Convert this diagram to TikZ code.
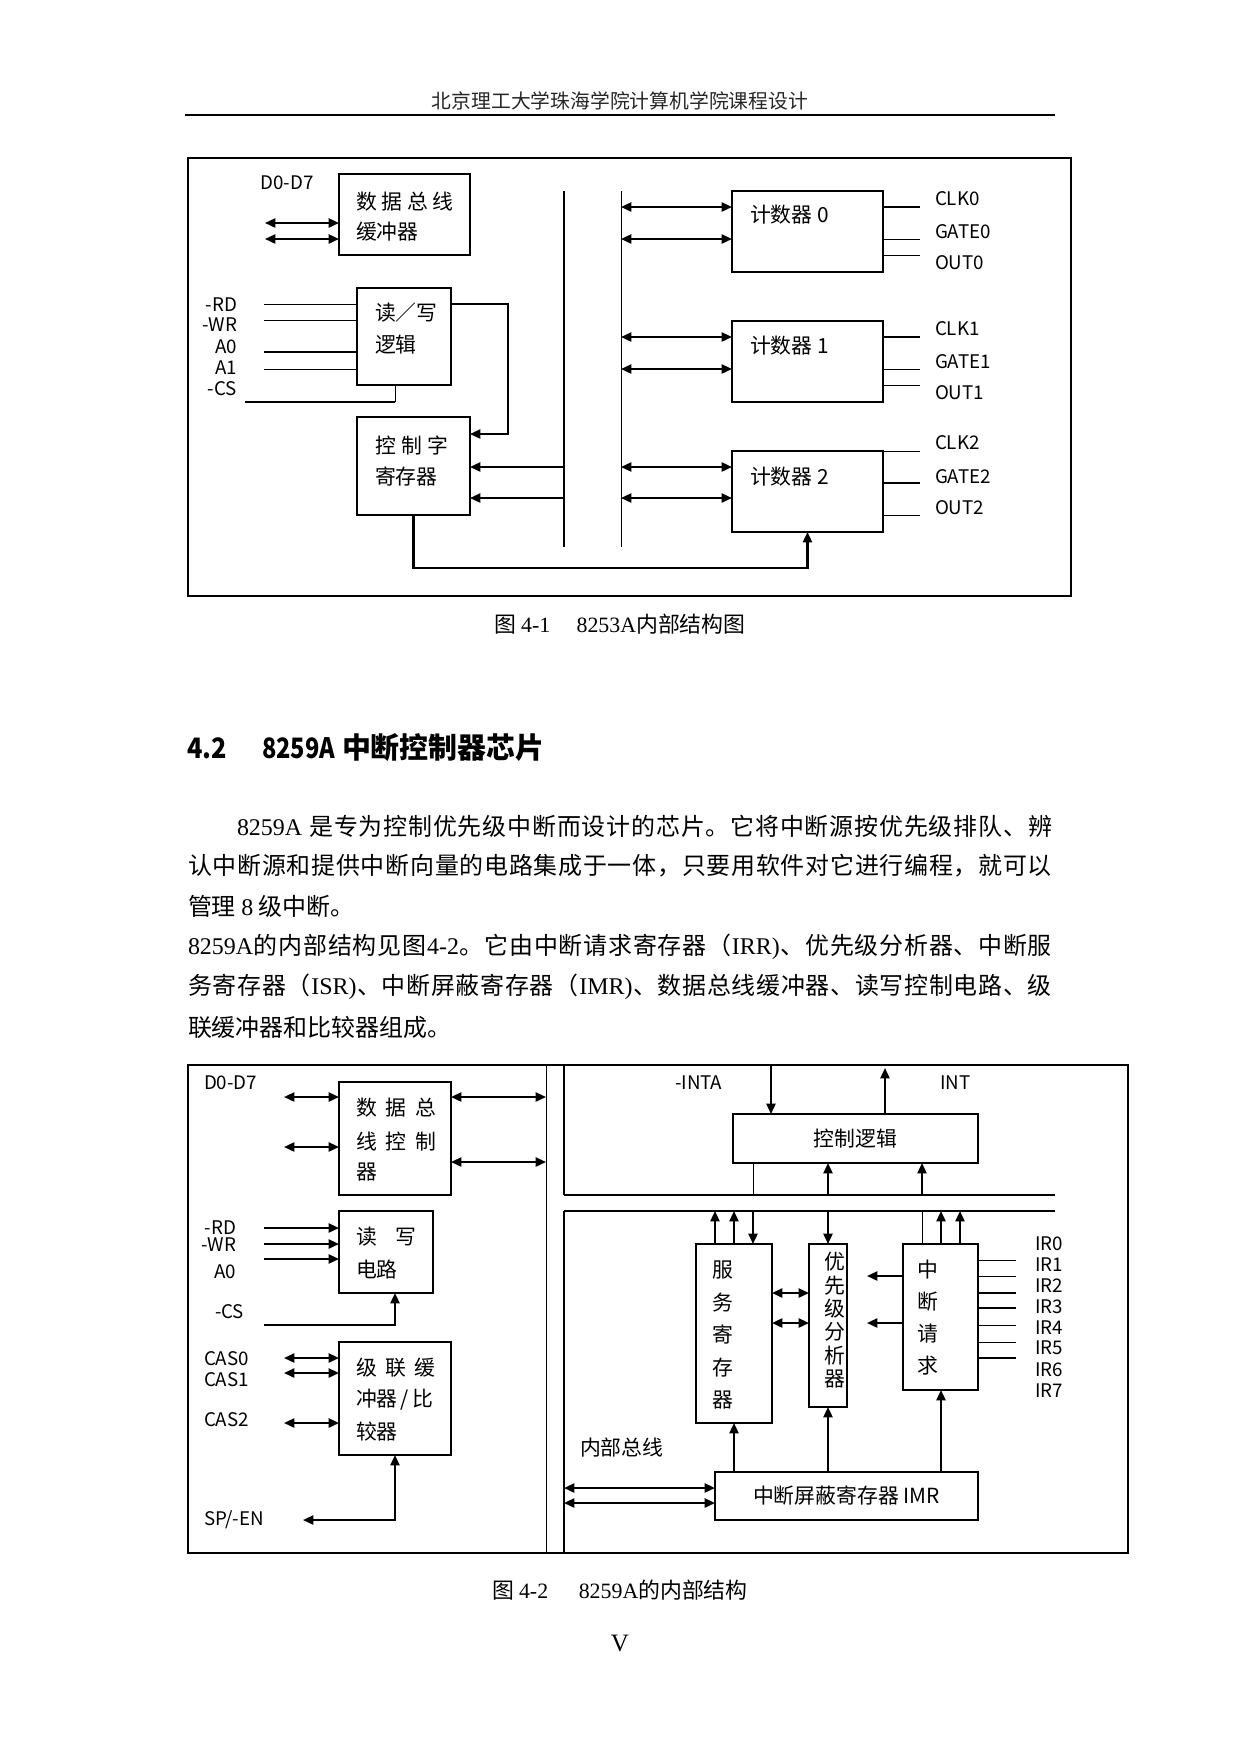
\documentclass[tikz,border=0pt]{standalone}
\usepackage{fontspec}
\setmainfont{Noto Sans CJK SC}
\newfontfamily\tnr{Liberation Serif}
\usetikzlibrary{arrows.meta,fit,calc}
\newcommand\fl{\fontsize{9}{10}\selectfont}
\newcommand\fc{\fontsize{10}{11}\selectfont}
\newcommand\fb{\fontsize{11.5}{12}\selectfont}
\newcommand\gp[1]{\hspace{#1pt}}
% spread the characters of a line evenly over a box of given width
\def\sprend{\sprend}
\def\spr#1#2\relax{{#1}\sprx#2\sprend}
\def\sprx#1{\ifx\sprend#1\else\hskip 0pt plus 1fil{#1}\expandafter\sprx\fi}
\begin{document}
\begin{tikzpicture}[x=0.48pt,y=-0.48pt,
  every node/.style={inner sep=0pt, outer sep=0pt},
  box/.style={draw, line width=0.65pt, fit={#1}},
  frm/.style={draw, line width=0.7pt},
  thk/.style={line width=1pt},
  thn/.style={line width=0.45pt},
  arr/.style={-{Triangle[length=5pt,width=4.4pt]}},
  darr/.style={{Triangle[length=5pt,width=4.4pt]}-{Triangle[length=5pt,width=4.4pt]}},
  lab/.style={font=\fl},
  labw/.style={font=\fl, anchor=west},
  labe/.style={font=\fl, anchor=east},
  ct/.style={font=\fc, anchor=west},
  body/.style={font=\fb, anchor=west},
]
\fill[white] (0,0) rectangle (1241,1754);
\useasboundingbox (0,0) rectangle (1241,1754);

% ---------- header ----------
\coordinate (hl) at (185,115); \coordinate (hr) at (1055,115);
\node[font=\fontsize{9.5}{10}\selectfont, text=black!85] (hdr) at (620,101) {北京理工大学珠海学院计算机学院课程设计};
\draw[line width=1.3pt] (hl) -- (hr);

% ---------- figure 4-1 ----------
\node[frm, fit={(188,158)(1071,596)}] (f1) {};
\node[box={(339,174)(470,255)}] (dbb) {};
\node[box={(357,288)(451,385)}] (rwl) {};
\node[box={(357,417)(470,515)}] (cwr) {};
\node[box={(732,191)(883,272)}] (c0) {};
\node[box={(732,321)(883,402)}] (c1) {};
\node[box={(732,451)(883,532)}] (c2) {};

\node[lab] (d07a) at (287,183) {D0-D7};
\node[ct] (t1a) at (356,202) {数\gp{2.3}据\gp{2.3}总\gp{2.3}线};
\node[ct] (t1b) at (356,232) {缓冲器};
\node[ct] (t2a) at (375,313) {读／写};
\node[ct] (t2b) at (375,345) {逻辑};
\node[ct] (t3a) at (375,445) {控\gp{2.5}制\gp{2.5}字};
\node[ct] (t3b) at (375,477) {寄存器};
\node[ct] (t4) at (750,215) {计数器 0};
\node[ct] (t5) at (750,346) {计数器 1};
\node[ct] (t6) at (750,477) {计数器 2};

\node[labe] (lrd) at (237,305) {-RD};
\node[labe] (lwr) at (237,325) {-WR};
\node[labe] (la0) at (237,347) {A0};
\node[labe] (la1) at (237,368) {A1};
\node[labe] (lcs) at (237,389) {-CS};

\foreach \n/\y/\t in {k0/199/CLK0, g0/232/GATE0, o0/263/OUT0, k1/329/CLK1, g1/362/GATE1, o1/393/OUT1, k2/443/CLK2, g2/477/GATE2, o2/508/OUT2}
  \node[labw] (\n) at (935,\y) {\t};

% buses
\coordinate (b1t) at (564,191); \coordinate (b1b) at (564,547);
\coordinate (b2t) at (621,191); \coordinate (b2b) at (621,547);
\draw[line width=1.1pt] (b1t) -- (b1b);
\draw[thn] (b2t) -- (b2b);

% data bus buffer arrows
\coordinate (da1) at (265,223); \coordinate (da2) at (265,239);
\draw[thk,darr] (da1) -- (da1 -| dbb.west);
\draw[thk,darr] (da2) -- (da2 -| dbb.west);

% read/write inputs
\foreach \y/\w in {304/thn,320/thn,352/thk,369/thn}
  \draw[\w] (264,\y) -- (rwl.west |- 0,\y);
\coordinate (cs0) at (245,402); \coordinate (cs1) at (395,402);
\draw[thk] (cs0) -- (cs1);
\draw[thn] (cs1) -- (cs1 |- rwl.south);

% rw -> control word
\draw[thk,arr] (rwl.east |- 0,304) -- (508,304) -- (508,434) -- (cwr.east |- 0,434);
% bus -> control word
\draw[thk,arr] (564,467) -- (cwr.east |- 0,467);
\draw[thk,arr] (564,498) -- (cwr.east |- 0,498);

% counters
\foreach \c/\ya/\yb in {c0/207/239, c1/337/369, c2/467/498} {
  \draw[thk,darr] (621,\ya) -- (\c.west |- 0,\ya);
  \draw[thk,darr] (621,\yb) -- (\c.west |- 0,\yb);
}
\foreach \c/\y/\w in {c0/207/thk, c0/239/thn, c0/255/thn, c1/337/thk, c1/369/thn, c1/385/thn, c2/451/thn, c2/483/thk, c2/515/thn}
  \draw[\w] (\c.east |- 0,\y) -- (920,\y);

% feedback
\draw[thk,arr] (cwr.south) -- (cwr.south |- 0,568) -- (c2.south |- 0,568) -- (c2.south);

\node[font=\fontsize{10.5}{11}\selectfont] (cap1) at (620,624) {图 {\tnr 4-1}\hspace{1.2em}{\tnr 8253A}内部结构图};

% ---------- section heading and text ----------
\node[anchor=west, font=\fontsize{13.5}{14}\selectfont\bfseries] (h42) at (187,748) {\scalebox{0.9}[1]{4.2}};
\node[anchor=west, font=\fontsize{13.5}{14}\selectfont\bfseries] (h8259) at (262,748) {\scalebox{0.84}[1]{8259A}};
\node[anchor=west, font=\fontsize{13.9}{14}\selectfont\bfseries] (hcn) at (342,748) {中断控制器芯片};

\node[body] (p1) at (237,826) {\hbox to 391.2pt{\spr {\tnr 8259A\hspace{3pt}}是专为控制优先级中断而设计的芯片。它将中断源按优先级排队、辨\relax}};
\node[body] (p2) at (188,866) {\hbox to 414.7pt{\spr 认中断源和提供中断向量的电路集成于一体，只要用软件对它进行编程，就可以\relax}};
\node[body] (p3) at (188,906) {管理 {\tnr 8} 级中断。};
\node[body] (p4) at (188,947) {\hbox to 414.7pt{\spr {\tnr 8259A}的内部结构见图{\tnr 4-2}。它由中断请求寄存器（{\tnr IRR)}、优先级分析器、中断服\relax}};
\node[body] (p5) at (188,987) {\hbox to 414.7pt{\spr 务寄存器（{\tnr ISR)}、中断屏蔽寄存器（{\tnr IMR)}、数据总线缓冲器、读写控制电路、级\relax}};
\node[body] (p6) at (188,1027) {联缓冲器和比较器组成。};

% ---------- figure 4-2 ----------
\node[frm, fit={(188,1065)(1128,1553)}] (f2) {};
\draw[thn] (f2.north -| 546,0) -- (f2.south -| 546,0);
\coordinate (u1) at (564,1065); \coordinate (u2) at (564,1195); \coordinate (u3) at (1055,1195);
\coordinate (l1) at (1055,1211); \coordinate (l2) at (564,1211); \coordinate (l3) at (564,1553);
\draw[line width=1pt] (u1) -- (u2);
\draw[line width=0.7pt] (u2) -- (u3);
\draw[line width=0.7pt] (l1) -- (l2);
\draw[line width=1pt] (l2) -- (l3);

\node[box={(339,1082)(451,1195)}] (dbc) {};
\node[box={(339,1211)(433,1293)}] (rwc) {};
\node[box={(339,1342)(451,1455)}] (cas) {};
\node[box={(733,1114)(978,1163)}] (ctl) {};
\node[box={(696,1244)(772,1423)}] (isr) {};
\node[box={(809,1244)(847,1407)}] (pa) {};
\node[box={(903,1244)(978,1390)}] (irr) {};
\node[box={(715,1472)(978,1520)}] (imr) {};

\node[font=\fc] (ctlt) at (ctl.center) {控制逻辑};
\node[font=\fc] (imrt) at (imr.center) {中断屏蔽寄存器 IMR};

\node[labw] (d07b) at (204,1083) {D0-D7};
\node[ct] (s1a) at (356,1108) {数\gp{4.4}据\gp{4.4}总};
\node[ct] (s1b) at (356,1142) {线\gp{4.4}控\gp{4.4}制};
\node[ct] (s1c) at (356,1172) {器};
\node[ct] (s2a) at (356,1237) {读\gp{9.2}写};
\node[ct] (s2b) at (356,1270) {电路};
\node[ct] (s3a) at (356,1368) {级\gp{4}联\gp{4}缓};
\node[ct] (s3b) at (356,1400) {冲器\gp{1.5}/\gp{1.5}比};
\node[ct] (s3c) at (356,1432) {较器};

\node[labe] (mrd) at (236,1228) {-RD};
\node[labe] (mwr) at (236,1245) {-WR};
\node[labe] (ma0) at (236,1272) {A0};
\node[labw] (mcs) at (215,1312) {-CS};
\node[labw] (cs0l) at (204,1359) {CAS0};
\node[labw] (cs1l) at (204,1380) {CAS1};
\node[labw] (cs2l) at (204,1420) {CAS2};
\node[labw] (spen) at (204,1520) {SP/-EN};
\node[labw] (inta) at (675,1083) {-INTA};
\node[labw] (intl) at (940,1083) {INT};
\node[ct] (nbus) at (580,1448) {内部总线};

\foreach \i/\y in {0/1244,1/1265,2/1286,3/1307,4/1328,5/1348,6/1370,7/1391}
  \node[labw] (ir\i) at (1035,\y) {IR\i};

\foreach \t [count=\k from 0] in {服,务,寄,存,器}
  \node[font=\fc] (isrt\k) at (723,1270+32.5*\k) {\t};
\foreach \t [count=\k from 0] in {优,先,级,分,析,器}
  \node[font=\fc] (pat\k) at (835,1262+23.4*\k) {\t};
\foreach \t [count=\k from 0] in {中,断,请,求}
  \node[font=\fc] (irrt\k) at (928,1270+32*\k) {\t};

% left side arrows
\draw[thk,darr] (284,1097) -- (dbc.west |- 0,1097);
\draw[thk,darr] (284,1147) -- (dbc.west |- 0,1147);
\draw[thk,darr] (dbc.east |- 0,1097) -- (546,1097);
\draw[thk,darr] (dbc.east |- 0,1162) -- (546,1162);
\foreach \y in {1228,1244,1259}
  \draw[thk,arr] (264,\y) -- (rwc.west |- 0,\y);
\coordinate (ca0) at (264,1325); \coordinate (ca1) at (395,1325);
\draw[thk,arr] (ca0) -- (ca1) -- (ca1 |- rwc.south);
\foreach \y in {1358,1373,1423}
  \draw[thk,darr] (284,\y) -- (cas.west |- 0,\y);
\coordinate (sp1) at (303,1520);
\draw[thk,darr] (cas.south) -- (cas.south |- sp1) -- (sp1);

% top: INTA / INT
\coordinate (ia) at (771,1065); \coordinate (it) at (885,1068);
\draw[thk,arr] (ia) -- (ia |- ctl.north);
\draw[thk,arr] (it |- ctl.north) -- (it);
\draw[thn] (ctl.south -| 753,0) -- (753,1195);
\draw[thk,arr] (828,1195) -- (ctl.south -| 828,0);
\draw[thk,arr] (922,1195) -- (ctl.south -| 922,0);

% lower bus to registers
\draw[thk,arr] (isr.north -| 715,0) -- (715,1211);
\draw[thk,arr] (isr.north -| 734,0) -- (734,1211);
\draw[thk,arr] (753,1211) -- (isr.north -| 753,0);
\draw[thk,arr] (828,1211) -- (pa.north -| 828,0);
\draw[thn] (irr.north -| 922,0) -- (922,1211);
\draw[thk,arr] (irr.north -| 941,0) -- (941,1211);
\draw[thk,arr] (irr.north -| 960,0) -- (960,1211);

% ISR <-> PA, IRR -> PA
\draw[thk,darr] (isr.east |- 0,1293) -- (pa.west |- 0,1293);
\draw[thk,darr] (isr.east |- 0,1323) -- (pa.west |- 0,1323);
\draw[thk,arr] (irr.west |- 0,1276) -- (867,1276);
\draw[thk,arr] (irr.west |- 0,1323) -- (867,1323);

% IR lines
\foreach \y/\w in {1260/thn,1276/thn,1293/thk,1308/thk,1325/thn,1342/thn,1358/thk}
  \draw[\w] (irr.east |- 0,\y) -- (1016,\y);

% IMR
\draw[thk,arr] (imr.north -| 734,0) -- (isr.south -| 734,0);
\draw[thk,arr] (imr.north -| 828,0) -- (pa.south -| 828,0);
\draw[thk,arr] (imr.north -| 941,0) -- (irr.south -| 941,0);
\draw[thk,darr] (564,1488) -- (imr.west |- 0,1488);
\draw[thk,darr] (564,1503) -- (imr.west |- 0,1503);

\node[font=\fontsize{10.5}{11}\selectfont] (cap2) at (620,1590) {图 {\tnr 4-2}\hspace{1.4em}{\tnr 8259A}的内部结构};
\node[font={\tnr\fontsize{12}{12}\selectfont}] (pgno) at (620,1643) {V};
\end{tikzpicture}
\end{document}
